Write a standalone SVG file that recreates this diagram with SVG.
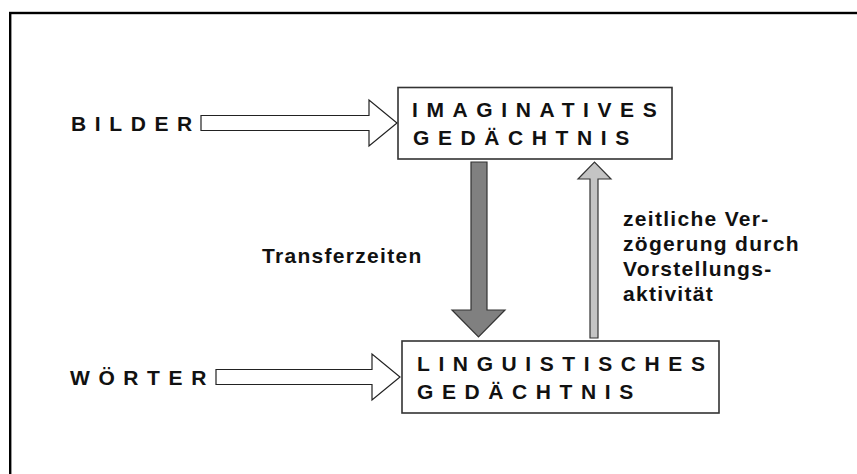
<svg xmlns="http://www.w3.org/2000/svg" width="857" height="474" viewBox="0 0 857 474">
  <style>
    .caps { font-family: "Liberation Sans", Arial, sans-serif; font-weight: bold; font-size: 21px; letter-spacing: 8.6px; fill: #111; }
    .note { font-family: "Liberation Sans", Arial, sans-serif; font-weight: bold; font-size: 21px; letter-spacing: 1.3px; fill: #111; }
    .box { fill: #ffffff; stroke: #333; stroke-width: 1.6; }
    .input { fill: #ffffff; stroke: #222; stroke-width: 1.2; }
    .down { fill: #808080; stroke: #333; stroke-width: 1.2; }
    .up { fill: #c4c4c4; stroke: #333; stroke-width: 1.2; }
  </style>
  <rect width="857" height="474" fill="#ffffff"/>
  <!-- outer frame, open to the right and bottom -->
  <rect x="10.2" y="13" width="900" height="520" fill="none" stroke="#000" stroke-width="2.4"/>

  <g id="connectors">
    <!-- BILDER input arrow -->
    <path class="input" d="M201,115.5 H369 V100 L397,123 L369,146 V130.5 H201 Z"/>
    <!-- WÖRTER input arrow -->
    <path class="input" d="M216,369.5 H372 V354 L400,377 L372,400 V384.5 H216 Z"/>
    <!-- transfer: imaginative to linguistic -->
    <path class="down" d="M471,162 H487 V310 H505 L478.5,337 L452,310 H471 Z"/>
    <!-- delayed: linguistic to imaginative -->
    <path class="up" d="M590,338 V179 H578 L594.5,162 L611,179 H598 V338 Z"/>
  </g>

  <g id="bilder">
    <text class="caps" x="71" y="131">BILDER</text>
  </g>
  <g id="woerter">
    <text class="caps" x="70" y="385">WÖRTER</text>
  </g>

  <g id="imaginatives-gedaechtnis">
    <rect class="box" x="398" y="87.5" width="274" height="71.5"/>
    <text class="caps" x="412" y="117">IMAGINATIVES</text>
    <text class="caps" x="413" y="145">GEDÄCHTNIS</text>
  </g>

  <g id="linguistisches-gedaechtnis">
    <rect class="box" x="402" y="341" width="317" height="72"/>
    <text class="caps" x="417" y="371">LINGUISTISCHES</text>
    <text class="caps" x="417" y="399">GEDÄCHTNIS</text>
  </g>

  <g id="transferzeiten">
    <text class="note" x="262" y="263">Transferzeiten</text>
  </g>

  <g id="verzoegerung">
    <text class="note" x="623" y="226">zeitliche Ver-</text>
    <text class="note" x="623" y="251">zögerung durch</text>
    <text class="note" x="623" y="276">Vorstellungs-</text>
    <text class="note" x="623" y="301">aktivität</text>
  </g>
</svg>
